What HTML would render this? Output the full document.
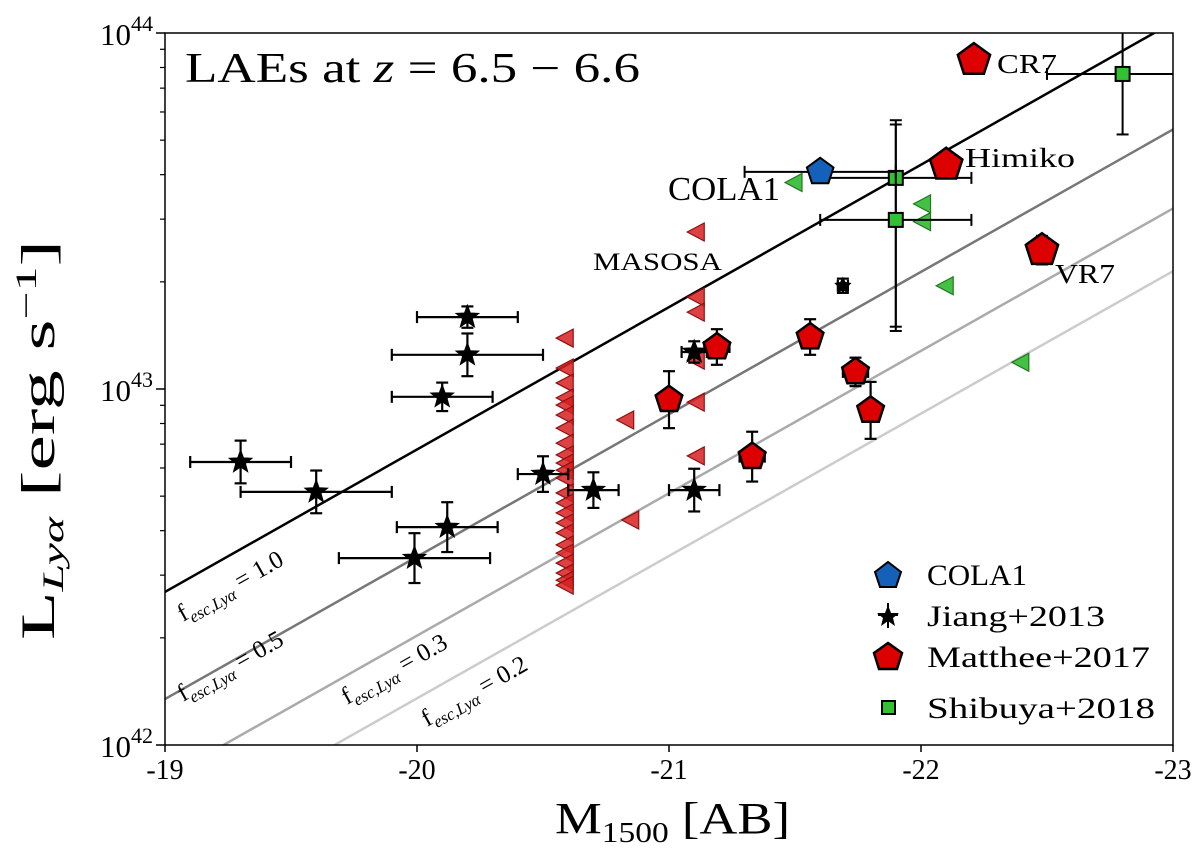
<!DOCTYPE html>
<html><head><meta charset="utf-8">
<style>
body{margin:0;background:#fff;}
svg{display:block;font-family:"Liberation Serif",serif;}
</style></head>
<body>
<svg id="chart" width="1200" height="853" viewBox="0 0 1200 853"></svg>
<script>
// ---- data ----
const xTicks=[-19,-20,-21,-22,-23];
const xTickLabels=["-19","-20","-21","-22","-23"];
const escFractions=[1.0,0.5,0.3,0.2];
const escNorm=42.43; // log L at M=-19 for f=1
// Jiang+2013 stars
const jiangM=[-19.3,-19.6,-20.2,-20.2,-20.1,-19.99,-20.12,-20.5,-20.7,-21.1,-21.1,-21.69];
const jiangL=[42.795,42.711,43.202,43.096,42.978,42.525,42.612,42.761,42.716,42.716,43.104,43.29];
const jiangXerr=[0.2,0.3,0.2,0.3,0.2,0.3,0.2,0.1,0.1,0.1,0.05,0.02];
const jiangYerr=[0.06,0.06,0.03,0.06,0.04,0.07,0.07,0.05,0.05,0.06,0.03,0.02];
// Matthee+2017 pentagons
const mattheeM=[-22.21,-22.1,-22.48,-21.19,-21.56,-21.74,-21.8,-21.0,-21.33];
const mattheeL=[43.924,43.63,43.39,43.118,43.146,43.048,42.94,42.97,42.81];
const mattheeYerr=[0.01,0.02,0.04,0.05,0.05,0.04,0.08,0.08,0.07];
const mattheeXerr=[0.05,0.02,0.05,0.05,0.0,0.05,0.0,0.0,0.05];
// COLA1
const colaM=[-21.6], colaL=[43.61], colaXerr=[0.3];
// Shibuya+2018 squares
const shibM=[-21.9,-21.9,-22.8];
const shibL=[43.593,43.475,43.885];
const shibXerr=[0.3,0.3,0.3];
const shibYerrLo=[0.43,0.3,0.17];
const shibYerrHi=[0.15,0.28,0.12];
// Shibuya upper limits
const shibLimM=[-21.5,-22.01,-22.01,-22.1,-22.4];
const shibLimL=[43.58,43.52,43.47,43.29,43.075];
// Matthee upper limits
const redLimM=[-20.6,-20.6,-20.6,-20.6,-20.6,-20.6,-20.6,-20.6,-20.6,-20.6,-20.6,-20.6,-20.6,-20.6,-20.6,-20.6,-20.6,-20.6,-20.6,-20.6,-20.6,-20.6,-20.6,-21.12,-21.12,-21.12,-21.12,-21.12,-21.12,-20.84,-20.86];
const redLimL=[43.143,43.059,43.017,42.975,42.955,42.927,42.89,42.848,42.815,42.792,42.772,42.75,42.708,42.68,42.652,42.624,42.596,42.562,42.539,42.511,42.483,42.463,42.449,43.441,43.258,43.216,43.081,42.963,42.812,42.913,42.632];

// ---- axes ----
const X0=165,X1=1173,Y0=33,Y1=745;
function xs(M){return X0+((-M)-19)/4*(X1-X0);}
function ys(l){return Y1-(l-42)/2*(Y1-Y0);}
const svg=document.getElementById('chart');
const NS='http://www.w3.org/2000/svg';
function el(tag,attrs,parent){const e=document.createElementNS(NS,tag);for(const k in attrs)e.setAttribute(k,attrs[k]);(parent||svg).appendChild(e);return e;}

const defs=el('defs',{});
const cp=el('clipPath',{id:'clip'},defs);
el('rect',{x:X0,y:Y0,width:X1-X0,height:Y1-Y0},cp);
const plot=el('g',{'clip-path':'url(#clip)'});



const lineCols=['#000','#777','#aaa','#ccc'];
escFractions.forEach((f,i)=>{
  const l0=escNorm+Math.log10(f);
  const ln=el('line',{x1:xs(-19),y1:ys(l0),x2:xs(-23),y2:ys(l0+1.6),stroke:lineCols[i],'stroke-width':2.5},plot);
  
  
});

function errbar(g,M,l,xlo,xhi,ylo,yhi,col,w){
  const cap=6;
  if(xlo>0||xhi>0){
    el('line',{x1:xs(M+xlo),y1:ys(l),x2:xs(M-xhi),y2:ys(l),stroke:col,'stroke-width':w},g);
    el('line',{x1:xs(M+xlo),y1:ys(l)-cap,x2:xs(M+xlo),y2:ys(l)+cap,stroke:col,'stroke-width':w},g);
    el('line',{x1:xs(M-xhi),y1:ys(l)-cap,x2:xs(M-xhi),y2:ys(l)+cap,stroke:col,'stroke-width':w},g);
  }
  if(ylo>0||yhi>0){
    el('line',{x1:xs(M),y1:ys(l-ylo),x2:xs(M),y2:ys(l+yhi),stroke:col,'stroke-width':w},g);
    el('line',{x1:xs(M)-cap,y1:ys(l-ylo),x2:xs(M)+cap,y2:ys(l-ylo),stroke:col,'stroke-width':w},g);
    el('line',{x1:xs(M)-cap,y1:ys(l+yhi),x2:xs(M)+cap,y2:ys(l+yhi),stroke:col,'stroke-width':w},g);
  }
}
function poly(cx,cy,r,n,rot){const p=[];for(let k=0;k<n;k++){const a=rot+k*2*Math.PI/n;p.push((cx+r*Math.cos(a)).toFixed(1)+','+(cy+r*Math.sin(a)).toFixed(1));}return p.join(' ');}
function starPts(cx,cy,R,r){const p=[];for(let k=0;k<10;k++){const a=-Math.PI/2+k*Math.PI/5;const rr=k%2?r:R;p.push((cx+rr*Math.cos(a)).toFixed(1)+','+(cy+rr*Math.sin(a)).toFixed(1));}return p.join(' ');}
function leftTri(cx,cy,s){return `${cx-s},${cy} ${cx+s*0.7},${cy-s*0.9} ${cx+s*0.7},${cy+s*0.9}`;}

redLimM.forEach((M,i)=>{
  const t=el('polygon',{points:leftTri(xs(M)-2,ys(redLimL[i]),10),fill:'#d82020',stroke:'#901010','stroke-width':1.2,'fill-opacity':0.85},plot);
  
  
});
shibLimM.forEach((M,i)=>{
  const t=el('polygon',{points:leftTri(xs(M),ys(shibLimL[i]),10),fill:'#44c044',stroke:'#227722','stroke-width':1.2},plot);
  
  
});
jiangM.forEach((M,i)=>{
  const g=el('g',{},plot);
  
  
  const small=i===11;
  errbar(g,M,jiangL[i],jiangXerr[i],jiangXerr[i],jiangYerr[i],jiangYerr[i],'#000',2.2);
  el('polygon',{points:starPts(xs(M),ys(jiangL[i]),small?8:12,small?4:5),fill:'#000',stroke:'#000','stroke-width':1},g);
});
shibM.forEach((M,i)=>{
  const g=el('g',{},plot);
  
  
  errbar(g,M,shibL[i],shibXerr[i],shibXerr[i],shibYerrLo[i],shibYerrHi[i],'#000',2);
  el('rect',{x:xs(M)-7,y:ys(shibL[i])-7,width:14,height:14,fill:'#33c033',stroke:'#000','stroke-width':2},g);
});
colaM.forEach((M,i)=>{
  const g=el('g',{},plot);
  
  
  errbar(g,M,colaL[i],colaXerr[i],colaXerr[i],0,0,'#000',2);
  el('polygon',{points:poly(xs(M),ys(colaL[i]),14,5,-Math.PI/2),fill:'#1560b8',stroke:'#000','stroke-width':2},g);
});
mattheeM.forEach((M,i)=>{
  const g=el('g',{},plot);
  
  
  errbar(g,M,mattheeL[i],mattheeXerr[i],mattheeXerr[i],mattheeYerr[i],mattheeYerr[i],'#000',2.2);
  const big=i<3;
  el('polygon',{points:poly(xs(M),ys(mattheeL[i]),big?17:14,5,-Math.PI/2),fill:'#dd0000',stroke:'#000','stroke-width':2.5},g);
});

const fr=el('rect',{x:X0,y:Y0,width:X1-X0,height:Y1-Y0,fill:'none',stroke:'#000','stroke-width':1.5});



xTicks.forEach((t,i)=>{
  el('line',{x1:xs(t),y1:Y1,x2:xs(t),y2:Y1+7,stroke:'#000','stroke-width':1.5});
  const tx=el('text',{x:xs(t),y:Y1+34,'font-size':28,'text-anchor':'middle'});
  tx.textContent=xTickLabels[i];
  
  
});
[42,43,44].forEach(d=>{
  el('line',{x1:X0-9,y1:ys(d),x2:X0,y2:ys(d),stroke:'#000','stroke-width':1.5});
  const tx=el('text',{x:X0-12,y:ys(d)+12,'font-size':31,'text-anchor':'end'});
  tx.innerHTML='10<tspan dy="-14" font-size="22">'+d+'</tspan>';
  
  
});
for(let d=42;d<44;d++)for(let m=2;m<10;m++){
  el('line',{x1:X0-5,y1:ys(d+Math.log10(m)),x2:X0,y2:ys(d+Math.log10(m)),stroke:'#000','stroke-width':1.2});
}
</script>
<svg width="1200" height="853" style="position:absolute;left:0;top:0;font-family:'Liberation Serif',serif">
 <text x="555" y="833" font-size="44" textLength="235" lengthAdjust="spacingAndGlyphs">M<tspan font-size="28" dy="9">1500</tspan><tspan dy="-9"> [AB]</tspan></text>
 <text transform="translate(54,640) rotate(-90)" font-size="48" textLength="400" lengthAdjust="spacingAndGlyphs">L<tspan font-size="30" dy="9" font-style="italic">Lyα</tspan><tspan dy="-9"> [erg s</tspan><tspan font-size="30" dy="-18">−1</tspan><tspan dy="18">]</tspan></text>
 <text x="185" y="82" font-size="42" textLength="455" lengthAdjust="spacingAndGlyphs">LAEs at <tspan font-style="italic">z</tspan> = 6.5 − 6.6</text>
 <text x="997" y="73" font-size="27" textLength="60" lengthAdjust="spacingAndGlyphs">CR7</text>
 <text x="965" y="167" font-size="27" textLength="110" lengthAdjust="spacingAndGlyphs">Himiko</text>
 <text x="668" y="200" font-size="34" textLength="112" lengthAdjust="spacingAndGlyphs">COLA1</text>
 <text x="593" y="270" font-size="25" textLength="129" lengthAdjust="spacingAndGlyphs">MASOSA</text>
 <text x="1055" y="283" font-size="27" textLength="60" lengthAdjust="spacingAndGlyphs">VR7</text>
 <g font-size="25">
  <text transform="translate(183,622) rotate(-29.5)">f<tspan font-size="17" dy="6" font-style="italic">esc,Lyα</tspan><tspan dy="-6"> = 1.0</tspan></text>
  <text transform="translate(183,702) rotate(-29.5)">f<tspan font-size="17" dy="6" font-style="italic">esc,Lyα</tspan><tspan dy="-6"> = 0.5</tspan></text>
  <text transform="translate(347,705) rotate(-29.5)">f<tspan font-size="17" dy="6" font-style="italic">esc,Lyα</tspan><tspan dy="-6"> = 0.3</tspan></text>
  <text transform="translate(427,727) rotate(-29.5)">f<tspan font-size="17" dy="6" font-style="italic">esc,Lyα</tspan><tspan dy="-6"> = 0.2</tspan></text>
 </g>
 <g font-size="30">
  <polygon points="888,562 901,572 896,587 880,587 875,572" fill="#1560b8" stroke="#000" stroke-width="2"/>
  <text x="927" y="585" textLength="100" lengthAdjust="spacingAndGlyphs">COLA1</text>
  <polygon points="888,605 891,613 899,613 893,618 895,626 888,621 881,626 883,618 877,613 885,613" fill="#000"/>
  <line x1="888" y1="603" x2="888" y2="628" stroke="#000" stroke-width="2"/>
  <line x1="878" y1="615" x2="898" y2="615" stroke="#000" stroke-width="2"/>
  <text x="927" y="626" textLength="178" lengthAdjust="spacingAndGlyphs">Jiang+2013</text>
  <polygon points="888,643 902,653 897,669 879,669 874,653" fill="#dd0000" stroke="#000" stroke-width="2.5"/>
  <text x="927" y="667" textLength="223" lengthAdjust="spacingAndGlyphs">Matthee+2017</text>
  <rect x="882" y="701" width="13" height="13" fill="#33c033" stroke="#000" stroke-width="2"/>
  <text x="927" y="718" textLength="228" lengthAdjust="spacingAndGlyphs">Shibuya+2018</text>
 </g>
</svg>
</body></html>
